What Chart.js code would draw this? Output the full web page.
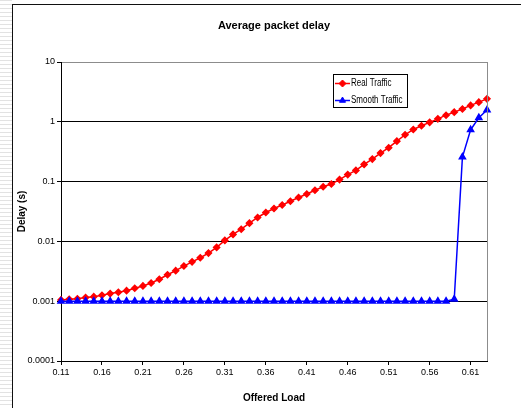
<!DOCTYPE html>
<html>
<head>
<meta charset="utf-8">
<script src="https://cdn.jsdelivr.net/npm/chart.js@4.4.1/dist/chart.umd.min.js"></script>
<style>
  html, body { margin: 0; padding: 0; background: #fff; }
  #wrap { position: relative; width: 521px; height: 408px; overflow: hidden; }
  #stripes { position: absolute; left: 0; top: 0; width: 12px; height: 408px;
    background: repeating-linear-gradient(to bottom, #e2e2e2 0px, #e2e2e2 1px, #fff 1px, #fff 4px); }
  #frame { position: absolute; left: 12px; top: 4px; width: 600px; height: 500px;
    border-left: 1px solid #111; border-top: 1px solid #111; background: #fff; }
  #chart { position: absolute; left: 0; top: 0; }
</style>
</head>
<body>
<div id="wrap">
  <div id="stripes"></div>
  <div id="frame"></div>
  <canvas id="chart" width="521" height="408"></canvas>
</div>
<script>
const FONT = "'Liberation Sans Narrow', 'Liberation Sans', Arial, sans-serif";

// offered load, 0.11 .. 0.63
const loads = [
  "0.11", "0.12", "0.13", "0.14", "0.15", "0.16", "0.17", "0.18", "0.19", "0.20",
  "0.21", "0.22", "0.23", "0.24", "0.25", "0.26", "0.27", "0.28", "0.29", "0.30",
  "0.31", "0.32", "0.33", "0.34", "0.35", "0.36", "0.37", "0.38", "0.39", "0.40",
  "0.41", "0.42", "0.43", "0.44", "0.45", "0.46", "0.47", "0.48", "0.49", "0.50",
  "0.51", "0.52", "0.53", "0.54", "0.55", "0.56", "0.57", "0.58", "0.59", "0.60",
  "0.61", "0.62", "0.63"
];

const realTraffic = [
  0.00105, 0.00108, 0.00110, 0.00115, 0.00119, 0.00126, 0.00134, 0.00141, 0.00150, 0.00165,
  0.00180, 0.00202, 0.00233, 0.00277, 0.00324, 0.00387, 0.00455, 0.00533, 0.00638, 0.00794,
  0.0104, 0.0131, 0.0160, 0.0202, 0.0251, 0.0304, 0.0355, 0.0407, 0.0470, 0.0541,
  0.0621, 0.0716, 0.0820, 0.0912, 0.108, 0.131, 0.154, 0.194, 0.238, 0.300,
  0.369, 0.475, 0.607, 0.745, 0.86, 0.98, 1.12, 1.29, 1.45, 1.64,
  1.88, 2.13, 2.42
];

const smoothTraffic = [
  0.001, 0.001, 0.001, 0.001, 0.001, 0.001, 0.001, 0.001, 0.001, 0.001,
  0.001, 0.001, 0.001, 0.001, 0.001, 0.001, 0.001, 0.001, 0.001, 0.001,
  0.001, 0.001, 0.001, 0.001, 0.001, 0.001, 0.001, 0.001, 0.001, 0.001,
  0.001, 0.001, 0.001, 0.001, 0.001, 0.001, 0.001, 0.001, 0.001, 0.001,
  0.001, 0.001, 0.001, 0.001, 0.001, 0.001, 0.001, 0.001, 0.00108, 0.257,
  0.736, 1.17, 1.58
];

const yTicks = [0.0001, 0.001, 0.01, 0.1, 1, 10];
const yTickLabels = ["0.0001", "0.001", "0.01", "0.1", "1", "10"];

// legend box inside the plot + grey right edge of the plot area
const plotExtras = {
  id: "plotExtras",
  afterDraw(chart) {
    const ctx = chart.ctx;
    const a = chart.chartArea;
    ctx.save();
    ctx.strokeStyle = "#8c8c8c";
    ctx.lineWidth = 1;
    ctx.beginPath();
    ctx.moveTo(Math.round(a.right) + 0.5, a.top);
    ctx.lineTo(Math.round(a.right) + 0.5, a.bottom);
    ctx.stroke();

    // legend
    const bx = 333.5, by = 74.5, bw = 74, bh = 33;
    ctx.fillStyle = "#fff";
    ctx.fillRect(bx, by, bw, bh);
    ctx.strokeStyle = "#000";
    ctx.strokeRect(bx, by, bw, bh);
    const sets = [chart.data.datasets[0], chart.data.datasets[1]];
    const rows = [83.5, 100.5];
    sets.forEach((ds, i) => {
      const y = rows[i];
      ctx.strokeStyle = ds.borderColor;
      ctx.lineWidth = 1.5;
      ctx.beginPath();
      ctx.moveTo(335, y);
      ctx.lineTo(350, y);
      ctx.stroke();
      ctx.fillStyle = ds.pointBackgroundColor;
      ctx.strokeStyle = ds.pointBorderColor;
      ctx.lineWidth = 1;
      Chart.helpers.drawPoint(ctx, { pointStyle: ds.pointStyle, radius: 3.5, rotation: 0, borderWidth: 1 }, 342.5, y);
      // narrow-looking text: squeeze horizontally
      ctx.save();
      ctx.translate(351, y);
      ctx.scale(0.8, 1);
      ctx.fillStyle = "#000";
      ctx.font = "10px " + FONT;
      ctx.textBaseline = "middle";
      ctx.textAlign = "left";
      ctx.fillText(ds.label, 0, 0);
      ctx.restore();
    });
    ctx.restore();
  }
};

new Chart(document.getElementById("chart"), {
  type: "line",
  data: {
    labels: loads,
    datasets: [
      {
        label: "Real Traffic",
        data: realTraffic,
        borderColor: "#ff0000",
        borderWidth: 1.5,
        pointStyle: "rectRot",
        pointRadius: 3,
        pointBackgroundColor: "#ff0000",
        pointBorderColor: "#ff0000",
        tension: 0,
        order: 2
      },
      {
        label: "Smooth Traffic",
        data: smoothTraffic,
        borderColor: "#0000ff",
        borderWidth: 1.5,
        pointStyle: "triangle",
        pointRadius: 3.5,
        pointBackgroundColor: "#0000ff",
        pointBorderColor: "#0000ff",
        tension: 0,
        order: 1
      }
    ]
  },
  options: {
    responsive: false,
    animation: false,
    layout: { padding: { left: 0, right: 34, top: 0, bottom: 0 } },
    plugins: {
      legend: { display: false },
      tooltip: { enabled: false },
      title: {
        display: true,
        text: "Average packet delay",
        fullSize: false,
        color: "#000",
        font: { family: FONT, size: 11, weight: "bold", lineHeight: 1.2 },
        padding: { top: 19, bottom: 29.8 }
      }
    },
    scales: {
      x: {
        type: "category",
        offset: false,
        afterFit(scale) { scale.height = 47; },
        border: { color: "#000", width: 1 },
        grid: {
          drawOnChartArea: false,
          drawTicks: true,
          tickLength: 4,
          tickColor: (c) => (c.index % 5 === 0 ? "#000" : "rgba(0,0,0,0)")
        },
        ticks: {
          autoSkip: false,
          maxRotation: 0,
          padding: 2,
          color: "#000",
          font: { family: FONT, size: 9 },
          callback: (v, i) => (i % 5 === 0 ? loads[i] : "")
        },
        title: {
          display: true,
          text: "Offered Load",
          color: "#000",
          font: { family: FONT, size: 10, weight: "bold", lineHeight: 1.2 },
          padding: { top: 0, bottom: 4 }
        }
      },
      y: {
        type: "logarithmic",
        min: 0.0001,
        max: 10,
        afterFit(scale) { scale.width = 61; },
        afterBuildTicks(scale) { scale.ticks = yTicks.map((v) => ({ value: v })); },
        border: { color: "#000", width: 1 },
        grid: {
          color: (c) => (c.tick && c.tick.value === 10 ? "#8c8c8c" : "#000"),
          lineWidth: 1,
          drawTicks: true,
          tickLength: 4,
          tickColor: "#000"
        },
        ticks: {
          padding: 2,
          color: "#000",
          font: { family: FONT, size: 9 },
          callback: (v) => {
            const i = yTicks.indexOf(v);
            return i >= 0 ? yTickLabels[i] : "";
          }
        },
        title: {
          display: true,
          text: "Delay (s)",
          color: "#000",
          font: { family: FONT, size: 10, weight: "bold", lineHeight: 1.2 },
          padding: { top: 16, bottom: 0 }
        }
      }
    }
  },
  plugins: [plotExtras]
});
</script>
</body>
</html>
